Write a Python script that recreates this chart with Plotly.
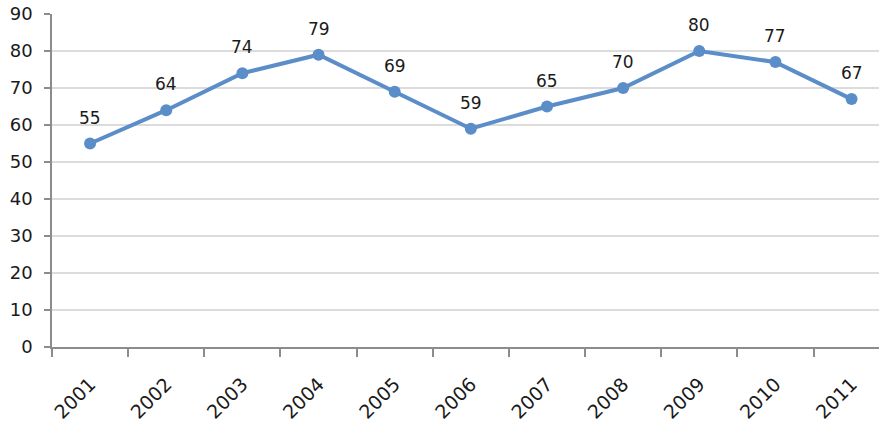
import plotly.graph_objects as go

years = ["2001", "2002", "2003", "2004", "2005", "2006", "2007", "2008", "2009", "2010", "2011"]
values = [55, 64, 74, 79, 69, 59, 65, 70, 80, 77, 67]
y_ticks = [0, 10, 20, 30, 40, 50, 60, 70, 80, 90]

line_color = "#5B8DC8"
font_family = "DejaVu Sans"
text_color = "#1a1a1a"

fig = go.Figure()
fig.add_trace(go.Scatter(
    x=years, y=values, mode="lines+markers",
    line=dict(color=line_color, width=4),
    marker=dict(color=line_color, size=12),
    cliponaxis=False,
))
for i, v in enumerate(values):
    fig.add_annotation(x=i, y=v, xref="x", yref="y", text=str(v), showarrow=False, yshift=26,
                       font=dict(size=17, color=text_color, family=font_family))

fig.update_layout(
    width=879, height=427,
    margin=dict(l=52, r=0, t=14, b=80),
    plot_bgcolor="white", paper_bgcolor="white",
    showlegend=False,
    font=dict(family=font_family, size=17, color=text_color),
)
fig.update_xaxes(
    type="category", range=[-0.5, 10.36],
    showgrid=False, showline=True, linecolor="#8c8c8c", linewidth=1.5,
    ticks="outside", tickson="boundaries", ticklen=8, tickcolor="#8c8c8c", tickwidth=1.5,
    tickangle=-45, ticklabelstandoff=17,
    tickfont=dict(size=19, color=text_color, family=font_family),
)
fig.update_yaxes(
    range=[0, 90], tickvals=y_ticks,
    showgrid=True, gridcolor="#dcdcdc", gridwidth=1.5,
    showline=True, linecolor="#8c8c8c", linewidth=1.5,
    ticks="outside", ticklen=6, tickcolor="#8c8c8c", tickwidth=1.5,
    ticklabelstandoff=8, zeroline=False,
    tickfont=dict(size=18, color=text_color, family=font_family),
)

fig.write_html("out.html")
